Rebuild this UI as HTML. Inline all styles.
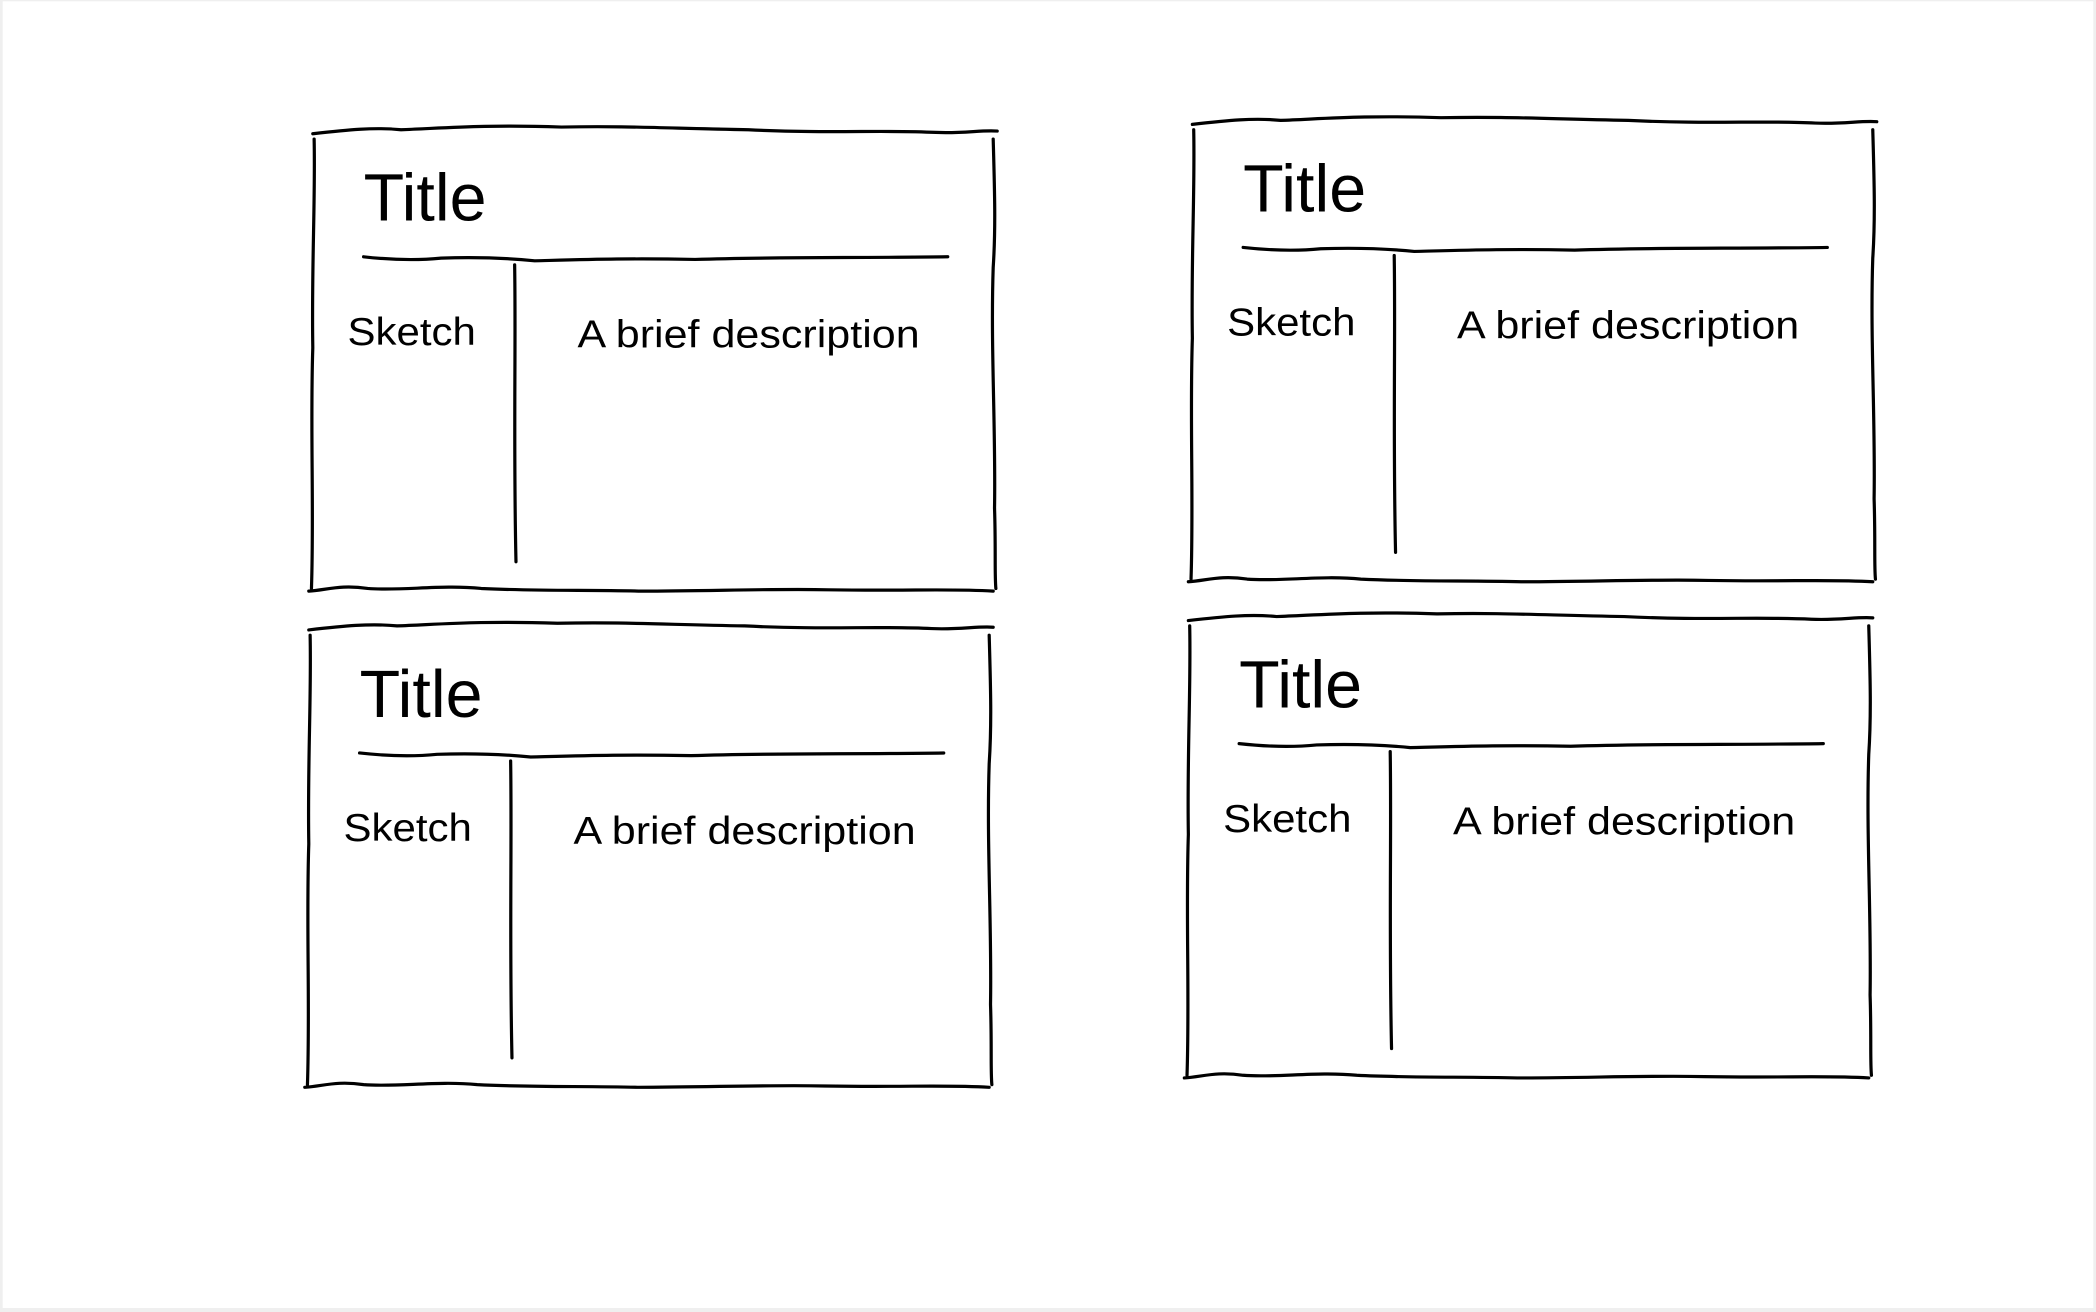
<!DOCTYPE html>
<html><head><meta charset="utf-8">
<style>
html,body{margin:0;padding:0;background:#efefef;}
.wrap{position:relative;width:2096px;height:1312px;background:#efefef;}
svg{position:absolute;left:0;top:0;}
</style></head>
<body><div class="wrap">
<svg width="2096" height="1312" viewBox="0 0 1568 981" preserveAspectRatio="none">
<defs>
<g id="card" fill="none" stroke="#000" stroke-width="2.4" stroke-linecap="round">
  <path d="M234,100 C260,97 280,95 300,97 C330,96 360,93 420,95 C470,94 500,96 560,97 C620,100 660,97 700,99 C720,100 735,97 746,98"/>
  <path d="M235,104 C236,150 233,200 234,260 C232,320 235,380 233,440"/>
  <path d="M743,104 C744,140 745,170 743,200 C741,260 745,320 744,380 C745,410 744,430 745,440"/>
  <path d="M231,442 C245,441 255,437 275,440 C300,442 330,437 360,440 C400,442 440,441 480,442 C530,442 580,440 620,441 C680,442 710,440 743,442"/>
  <path d="M272,192 C290,194 310,195 330,193 C360,192 380,193 400,195 C440,194 470,193 520,194 C580,192 640,193 709,192"/>
  <path d="M385,198 C386,260 384,330 386,420"/>
  <text x="272" y="165" font-family="Liberation Sans, sans-serif" font-size="50" fill="#000" stroke="none" textLength="92" lengthAdjust="spacingAndGlyphs">Title</text>
  <text x="260" y="258" font-family="Liberation Sans, sans-serif" font-size="29" fill="#000" stroke="none" textLength="96" lengthAdjust="spacingAndGlyphs">Sketch</text>
  <text x="432" y="260" font-family="Liberation Sans, sans-serif" font-size="29" fill="#000" stroke="none" textLength="256" lengthAdjust="spacingAndGlyphs">A brief description</text>
</g>
</defs>
<rect x="2" y="1" width="1564" height="977" fill="#fff"/>
<use href="#card"/>
<use href="#card" transform="translate(658,-7)"/>
<use href="#card" transform="translate(-3,371)"/>
<use href="#card" transform="translate(655,364)"/>
</svg>
</div></body></html>
